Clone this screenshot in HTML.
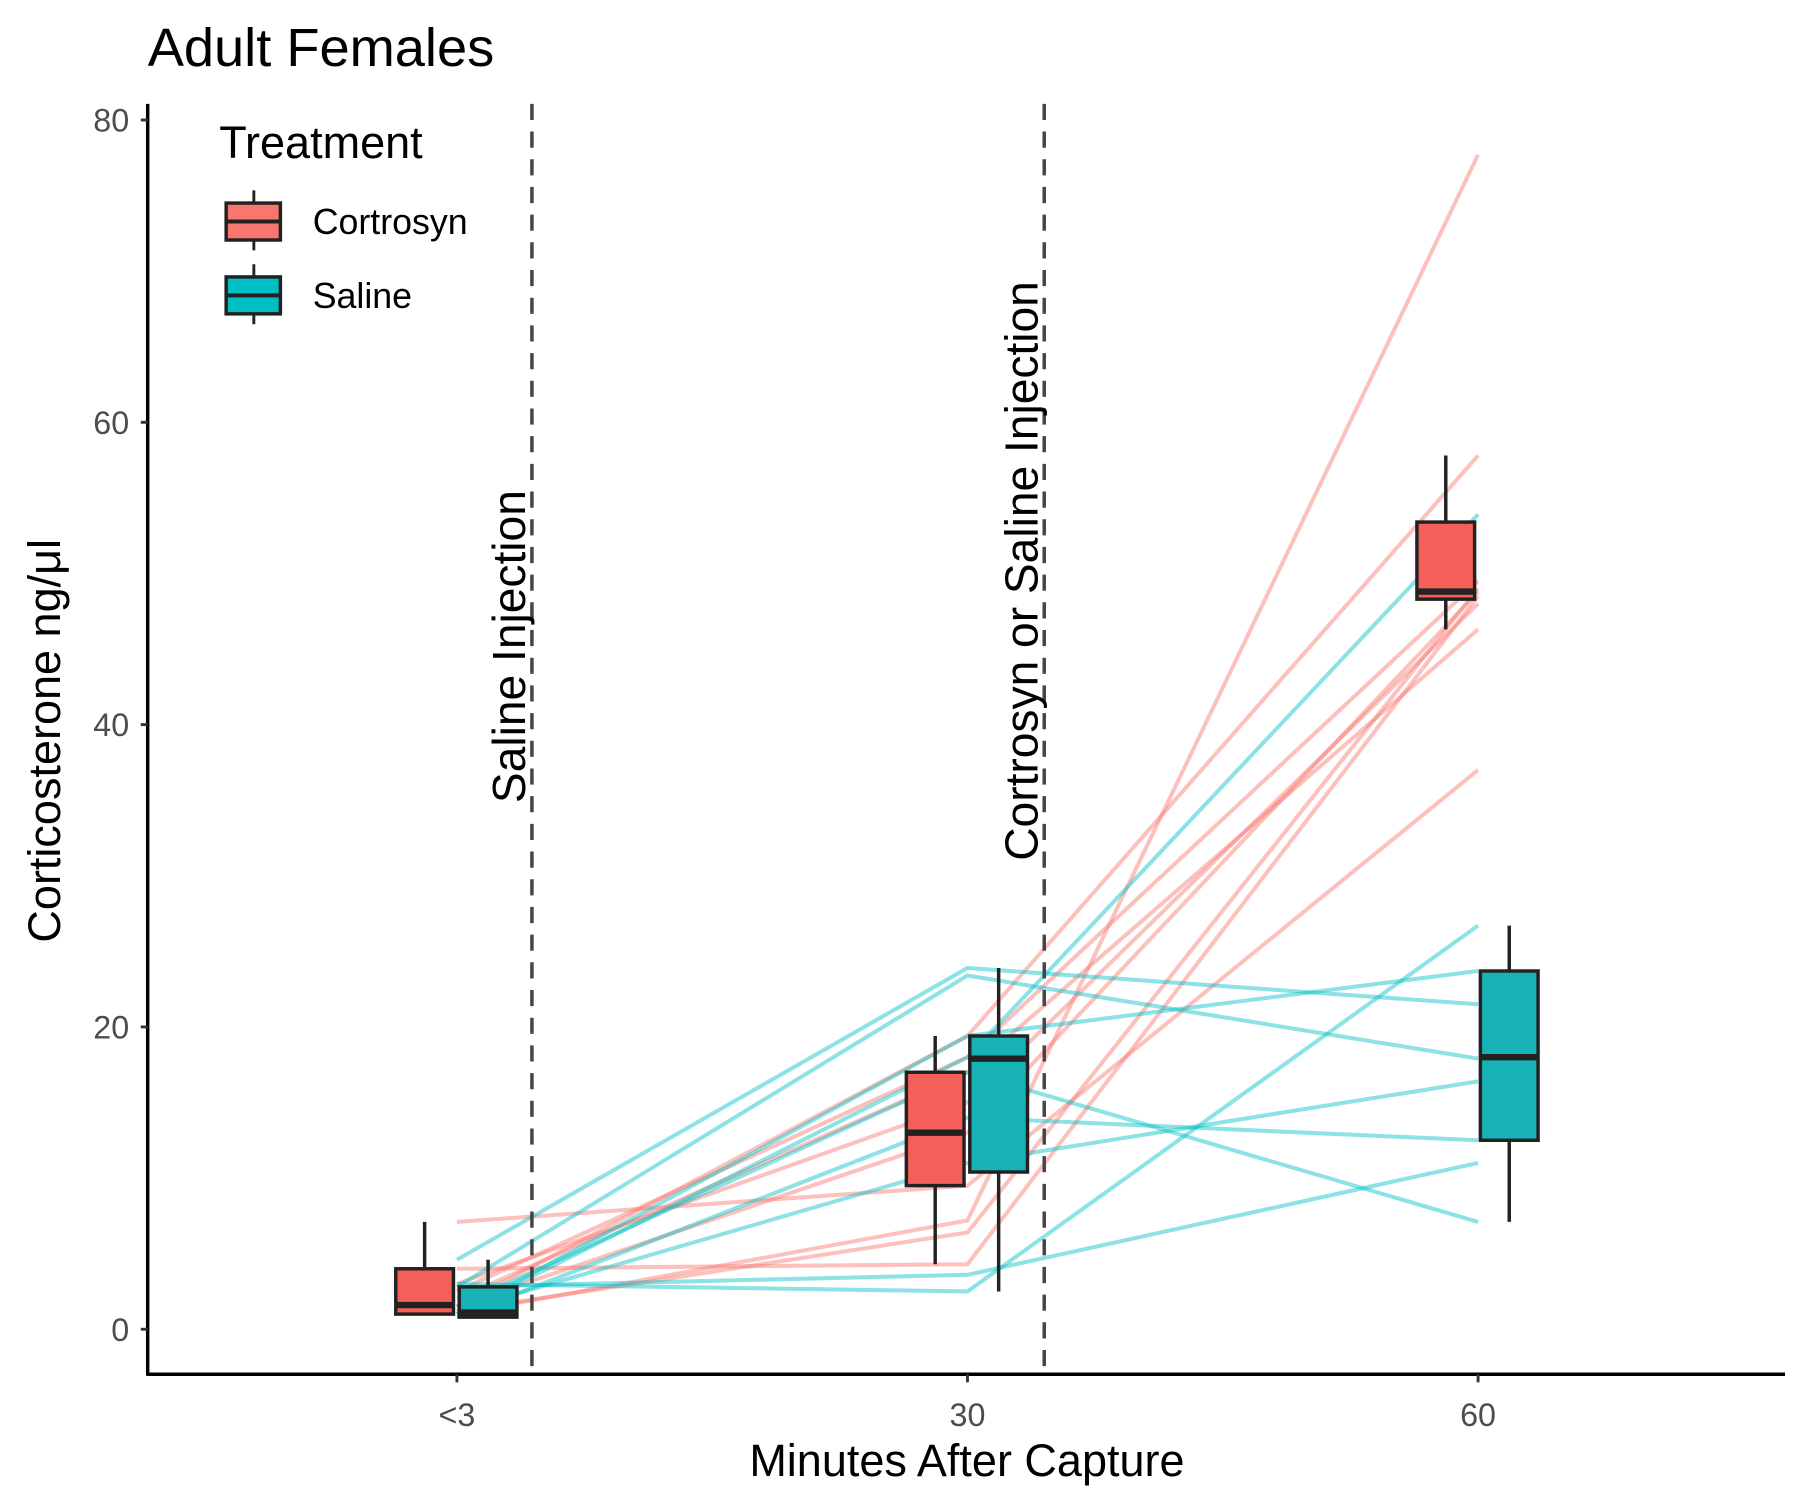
<!DOCTYPE html>
<html><head><meta charset="utf-8"><style>
html,body{margin:0;padding:0;background:#fff}
svg{display:block}
text{font-family:"Liberation Sans",sans-serif}
</style></head><body>
<svg id="chart" width="1800" height="1500" viewBox="0 0 1560 1300" xmlns="http://www.w3.org/2000/svg">
<rect width="1560" height="1300" fill="#fff"/>
<text x="128" y="57" font-size="47" fill="#000">Adult Females</text>
<g id="lines"></g>
<g id="boxes"></g>
<g id="axes"></g>
<line x1="461" y1="90" x2="461" y2="1191" stroke="#444" stroke-width="3" stroke-dasharray="14,10"/>
<line x1="905" y1="90" x2="905" y2="1191" stroke="#444" stroke-width="3" stroke-dasharray="14,10"/>
<text transform="translate(455,696) rotate(-90)" font-size="40" fill="#000">Saline Injection</text>
<text transform="translate(899,746) rotate(-90)" font-size="40" fill="#000">Cortrosyn or Saline Injection</text>
<g>
<text x="190" y="137" font-size="39" fill="#000">Treatment</text>
<g>
<line x1="220" y1="165" x2="220" y2="217" stroke="#222" stroke-width="2.5"/>
<rect x="196" y="176" width="47" height="32" fill="#F8766D" stroke="#222" stroke-width="3"/>
<line x1="196" y1="192" x2="243" y2="192" stroke="#222" stroke-width="3.5"/>
<text x="271" y="203" font-size="31" fill="#000">Cortrosyn</text>
</g>
<g>
<line x1="220" y1="229" x2="220" y2="281" stroke="#222" stroke-width="2.5"/>
<rect x="196" y="240" width="47" height="32" fill="#00BFC4" stroke="#222" stroke-width="3"/>
<line x1="196" y1="256" x2="243" y2="256" stroke="#222" stroke-width="3.5"/>
<text x="271" y="267" font-size="31" fill="#000">Saline</text>
</g>
</g>
<text x="838" y="1279" font-size="39" text-anchor="middle" fill="#000">Minutes After Capture</text>
<text transform="translate(52,642) rotate(-90)" font-size="39" text-anchor="middle" fill="#000">Corticosterone ng/μl</text>
</svg>
<script>
const timeLabels = ["<3","30","60"];
const yTicks = [0,20,40,60,80];
const cortrosynLines = [
  [1.5,19.4,57.8],[7.1,9.5,37],[4.0,4.3,48.5],[1.2,6.4,49],[2.0,17,46.3],
  [3.0,15,48],[1.0,7.2,77.7],[1.5,13,48.8],[2.5,18,49.5]
];
const salineLines = [
  [4.6,23.9,21.5],[2.8,23.4,17.9],[1.0,19.4,23.7],[1.0,18,53.9],[3.0,2.5,26.7],
  [2.8,3.6,11],[1.5,17,7.1],[0.8,14,12.5],[1.2,11,16.4]
];
// box stats: [whiskerLow, q1, median, q3, whiskerHigh]
const cortrosynBoxes = [[1.0,1.0,1.6,4.0,7.1],[4.3,9.5,13,17,19.4],[46.3,48.3,48.8,53.4,57.8]];
const salineBoxes = [[0.8,0.8,1.1,2.8,4.6],[2.5,10.4,17.9,19.4,23.9],[7.1,12.5,18,23.7,26.7]];

const NS="http://www.w3.org/2000/svg";
function xPos(i){return 396 + i*442.5;}
function yPos(v){return 1152 - v*13.1;}
function mk(tag,attrs,parent){const e=document.createElementNS(NS,tag);for(const k in attrs)e.setAttribute(k,attrs[k]);parent.appendChild(e);return e;}

const gl=document.getElementById('lines');
function drawLines(arr,color,name){
  arr.forEach((vals,j)=>{
    const pts=vals.map((v,i)=>xPos(i)+','+yPos(v)).join(' ');
    const p=mk('polyline',{points:pts,fill:'none',stroke:color,'stroke-width':3.5,'stroke-opacity':0.45},gl);
    
    
  });
}
drawLines(cortrosynLines,'#F8766D','cortrosyn');
drawLines(salineLines,'#00BFC4','saline');

const gb=document.getElementById('boxes');
function drawBoxes(arr,color,off,name){
  arr.forEach((s,i)=>{
    const cx=xPos(i)+off, w=50;
    const g=mk('g',{},gb);
    
    
    mk('line',{x1:cx,x2:cx,y1:yPos(s[0]),y2:yPos(s[4]),stroke:'#222','stroke-width':3},g);
    mk('rect',{x:cx-w/2,y:yPos(s[3]),width:w,height:yPos(s[1])-yPos(s[3]),fill:color,stroke:'#222','stroke-width':3},g);
    mk('line',{x1:cx-w/2,x2:cx+w/2,y1:yPos(s[2]),y2:yPos(s[2]),stroke:'#222','stroke-width':5.5},g);
  });
}
drawBoxes(cortrosynBoxes,'#F45F5A',-28,'cortrosyn');
drawBoxes(salineBoxes,'#17B3B7',27,'saline');

const ga=document.getElementById('axes');
mk('line',{x1:128,y1:90,x2:128,y2:1192,stroke:'#000','stroke-width':3},ga);
mk('line',{x1:127,y1:1191,x2:1547,y2:1191,stroke:'#000','stroke-width':3},ga);
yTicks.forEach(v=>{
  const y=yPos(v);
  mk('line',{x1:122,x2:128,y1:y,y2:y,stroke:'#333','stroke-width':2.5},ga);
  const t=mk('text',{x:112,y:y+10,'font-size':28,'text-anchor':'end',fill:'#4d4d4d'},ga);
  t.textContent=v;
  
  
});
timeLabels.forEach((l,i)=>{
  const x=xPos(i);
  mk('line',{x1:x,x2:x,y1:1191,y2:1198,stroke:'#333','stroke-width':2.5},ga);
  const t=mk('text',{x:x,y:1236,'font-size':28,'text-anchor':'middle',fill:'#4d4d4d'},ga);
  t.textContent=l;
  
  
});
</script>
</body></html>
